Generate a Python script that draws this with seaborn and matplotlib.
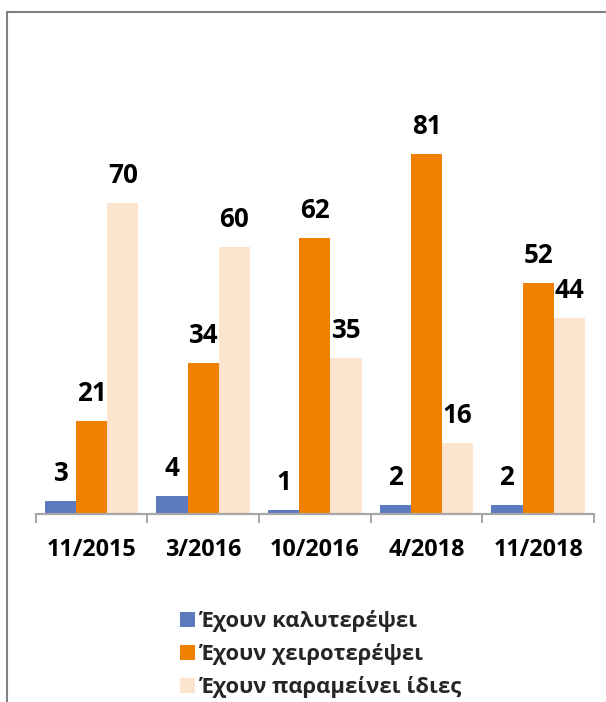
import numpy as np
import pandas as pd
import matplotlib
matplotlib.use("Agg")
import matplotlib.pyplot as plt
from matplotlib.patches import Rectangle
from matplotlib.ticker import FixedLocator
import seaborn as sns

# data
periods = ['11/2015', '3/2016', '10/2016', '4/2018', '11/2018']
series_names = ['Έχουν καλυτερέψει', 'Έχουν χειροτερέψει', 'Έχουν παραμείνει ίδιες']
better = [3, 4, 1, 2, 2]
worse = [21, 34, 62, 81, 52]
same = [70, 60, 35, 16, 44]
colors = ['#5B7BBE', '#F08000', '#FCE4CE']

df = pd.DataFrame({
    'period': periods * 3,
    'series': [series_names[0]] * 5 + [series_names[1]] * 5 + [series_names[2]] * 5,
    'value': better + worse + same,
})

sns.set_theme(style='white')
plt.rcParams['font.family'] = ['Open Sans', 'DejaVu Sans']
plt.rcParams['font.weight'] = 'bold'

fig = plt.figure(figsize=(6.06, 7.02), dpi=100)
ax = fig.add_axes([35.7 / 606, 1 - 514 / 702, (594 - 35.7) / 606, 90 * 4.447 / 702])

sns.barplot(data=df, x='period', y='value', hue='series', order=periods,
            hue_order=series_names, palette=colors, width=0.84, saturation=1,
            linewidth=0, ax=ax)

ax.set_ylim(0, 90)
ax.set_xlim(-0.5, len(periods) - 0.5)
ax.set_xlabel('')
ax.set_ylabel('')
ax.set_yticks([])
for side in ['top', 'right', 'left']:
    ax.spines[side].set_visible(False)
ax.spines['bottom'].set_color('#A6A6A6')
ax.spines['bottom'].set_linewidth(1.6)

# tick marks between categories, labels centred
ax.xaxis.set_minor_locator(FixedLocator(np.arange(-0.5, len(periods), 1.0)))
ax.tick_params(axis='x', which='minor', length=6.5, width=1.4, color='#A6A6A6', bottom=True)
ax.tick_params(axis='x', which='major', length=0, pad=17, labelsize=16.8, labelcolor='black')
for lbl in ax.get_xticklabels():
    lbl.set_fontweight('bold')

# value labels
for container, vals in zip(ax.containers, [better, worse, same]):
    for patch, v in zip(container, vals):
        ax.annotate(str(v), (patch.get_x() + patch.get_width() / 2, patch.get_height()),
                    xytext=(0, 14.4), textcoords='offset points', ha='center', va='baseline',
                    fontsize=18.7, fontweight='bold', color='black')

# legend below the plot
handles, labels = ax.get_legend_handles_labels()
ax.get_legend().remove()
leg = fig.legend(handles, labels, loc='center left', bbox_to_anchor=(180 / 606, 1 - 654 / 702),
                 frameon=False, prop={'weight': 'bold', 'size': 15.8},
                 handlelength=0.68, handleheight=0.68, handletextpad=0.2,
                 labelspacing=0.5, borderpad=0, borderaxespad=0)
for t in leg.get_texts():
    t.set_fontweight('bold')

# outer chart border (runs off the right and bottom edges)
fig.patches.append(Rectangle((7.2 / 606, -0.1), 1.1, 1.1 - 12 / 702, transform=fig.transFigure,
                             fill=False, edgecolor='#808080', linewidth=1.5))

fig.savefig('out.png', dpi=100)
